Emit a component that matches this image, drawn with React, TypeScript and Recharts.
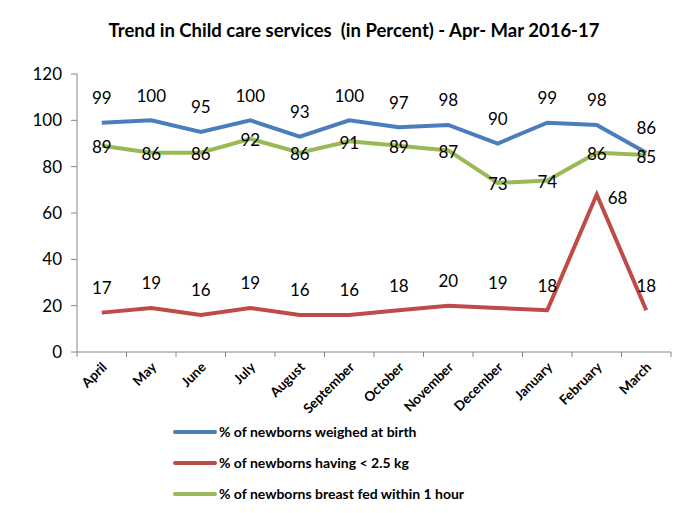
import React from "react";
import { LineChart, Line, XAxis, YAxis, Legend, LabelList } from "recharts";

const months = ["April", "May", "June", "July", "August", "September", "October", "November", "December", "January", "February", "March"];
const weighed = [99, 100, 95, 100, 93, 100, 97, 98, 90, 99, 98, 86];
const lowWeight = [17, 19, 16, 19, 16, 16, 18, 20, 19, 18, 68, 18];
const breastFed = [89, 86, 86, 92, 86, 91, 89, 87, 73, 74, 86, 85];
const yTicks = [0, 20, 40, 60, 80, 100, 120];

const seriesNames = [
  "% of newborns weighed at birth",
  "% of newborns having < 2.5 kg",
  "% of newborns breast fed within 1 hour",
];
const colors = ["#4a7ebb", "#be4b48", "#98b954"];
const FONT = "Lato, 'Open Sans', sans-serif";

const data = months.map((m, i) => ({
  month: m,
  weighed: weighed[i],
  lowWeight: lowWeight[i],
  breastFed: breastFed[i],
}));

// label above the point
const aboveLabel = (props: any) => {
  const { x, y, value } = props;
  return (
    <text x={x} y={y - 25} textAnchor="middle" dominantBaseline="central" fontSize={17} fontFamily={FONT} fill="#000">
      {value}
    </text>
  );
};

// red series: Feb spike gets its label on the right
const redLabel = (props: any) => {
  const { x, y, value, index } = props;
  if (index === 10) {
    return (
      <text x={x + 11} y={y + 3} textAnchor="start" dominantBaseline="central" fontSize={17} fontFamily={FONT} fill="#000">
        {value}
      </text>
    );
  }
  return aboveLabel(props);
};

const centerLabel = (props: any) => {
  const { x, y, value } = props;
  return (
    <text x={x} y={y + 1} textAnchor="middle" dominantBaseline="central" fontSize={17} fontFamily={FONT} fill="#000">
      {value}
    </text>
  );
};

const MonthTick = (props: any) => {
  const { x, y, payload, index } = props;
  const half = payload && payload.offset ? payload.offset : 25;
  return (
    <g>
      <line x1={x - half} x2={x - half} y1={y - 8} y2={y - 3} stroke="#868686" />
      {index === months.length - 1 && (
        <line x1={x + half} x2={x + half} y1={y - 8} y2={y - 3} stroke="#868686" />
      )}
      <text
        x={x + 6}
        y={y + 8}
        transform={`rotate(-45, ${x + 6}, ${y + 8})`}
        textAnchor="end"
        fontSize={13.5}
        fontWeight="bold"
        fontFamily={FONT}
        fill="#000"
      >
        {payload.value}
      </text>
    </g>
  );
};

const LegendBox = () => (
  <div style={{ fontFamily: FONT, fontWeight: "bold", fontSize: 14, color: "#000" }}>
    {seriesNames.map((n, i) => (
      <div key={n} style={{ display: "flex", alignItems: "center", height: 31 }}>
        <svg width={46} height={8}>
          <line x1={3} x2={43} y1={4} y2={4} stroke={colors[i]} strokeWidth={4} strokeLinecap="round" />
        </svg>
        <span style={{ marginLeft: 1 }}>{n}</span>
      </div>
    ))}
  </div>
);

export default function App() {
  return (
    <div style={{ position: "relative", width: 698, height: 513, margin: -8, background: "#fff", fontFamily: FONT }}>
      <div style={{ position: "absolute", left: 5, top: 2, width: 693, height: 511, borderLeft: "2px solid #a6a6a6", borderTop: "2px solid #a6a6a6" }} />
      <div
        style={{
          position: "absolute",
          top: 19,
          left: 0,
          width: 708,
          textAlign: "center",
          fontWeight: "bold",
          fontSize: 18.5,
          whiteSpace: "pre",
          color: "#000",
        }}
      >
        {"Trend in Child care services  (in Percent) - Apr- Mar 2016-17"}
      </div>
      <LineChart width={698} height={513} data={data} margin={{ top: 74, right: 27, bottom: 0, left: 5 }}>
        <XAxis
          dataKey="month"
          scale="band"
          height={161}
          interval={0}
          tickLine={false}
          axisLine={{ stroke: "#868686" }}
          tick={<MonthTick />}
        />
        <YAxis
          width={72}
          domain={[0, 120]}
          ticks={yTicks}
          interval={0}
          tickSize={6}
          tickMargin={9}
          tickLine={{ stroke: "#868686" }}
          axisLine={{ stroke: "#868686" }}
          tick={{ fontSize: 17, fill: "#000", fontFamily: FONT }}
        />
        <Legend
          layout="vertical"
          align="center"
          verticalAlign="middle"
          content={<LegendBox />}
          wrapperStyle={{ position: "absolute", left: 172, top: 416, width: 360 }}
        />
        <Line dataKey="weighed" name={seriesNames[0]} stroke={colors[0]} strokeWidth={4} dot={false} isAnimationActive={false}>
          <LabelList dataKey="weighed" content={aboveLabel} />
        </Line>
        <Line dataKey="lowWeight" name={seriesNames[1]} stroke={colors[1]} strokeWidth={4} dot={false} isAnimationActive={false}>
          <LabelList dataKey="lowWeight" content={redLabel} />
        </Line>
        <Line dataKey="breastFed" name={seriesNames[2]} stroke={colors[2]} strokeWidth={4} dot={false} isAnimationActive={false}>
          <LabelList dataKey="breastFed" content={centerLabel} />
        </Line>
      </LineChart>
    </div>
  );
}
